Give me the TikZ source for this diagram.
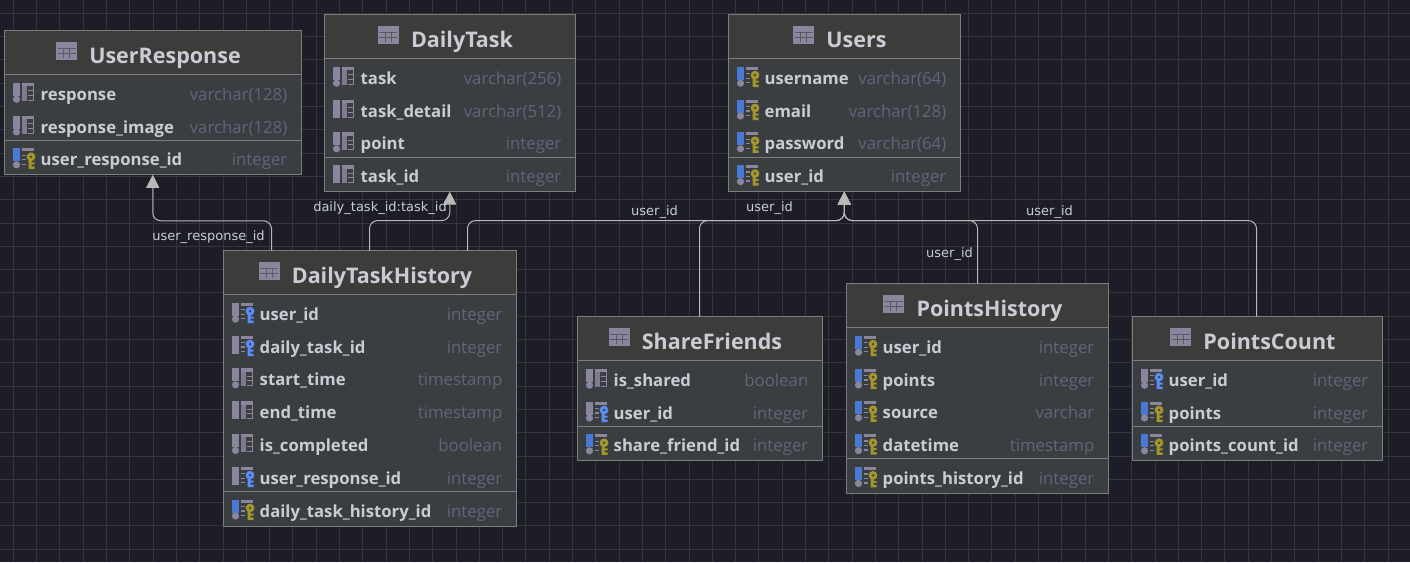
\documentclass[tikz,border=0pt]{standalone}
\usepackage{fontspec}
\setmainfont{Open Sans}
\newfontfamily\linkfont{DejaVu Sans}
\usetikzlibrary{positioning,arrows.meta}
\definecolor{erdback}{HTML}{1C1D27}
\definecolor{erdgrid}{HTML}{35363A}
\definecolor{erdbody}{HTML}{3B3E41}
\definecolor{erdhead}{HTML}{3D3C3A}
\definecolor{erdedge}{HTML}{7C7E7E}
\definecolor{erdtext}{HTML}{C9CCD4}
\definecolor{erdtype}{HTML}{62647A}
\definecolor{erdlink}{HTML}{B9B9B9}
\definecolor{erdicon}{HTML}{8A869E}
\definecolor{erdblue}{HTML}{4B78D4}
\definecolor{erdkey}{HTML}{5A8EF5}
\definecolor{erdgold}{HTML}{A4962A}
\tikzset{
  tablebox/.style={draw=erdedge, fill=erdbody, line width=1pt, outer sep=0pt, inner sep=0pt, anchor=north west},
  tablename/.style={font=\bfseries\fontsize{21.5}{24}\selectfont, text=erdtext, inner sep=0pt, anchor=base},
  colname/.style={font=\bfseries\fontsize{16.7}{20}\selectfont, text=erdtext, inner sep=0pt, anchor=base west},
  coltype/.style={font=\fontsize{16.8}{20}\selectfont, text=erdtype, inner sep=0pt, anchor=base east},
  linklabel/.style={font=\linkfont\fontsize{13}{14}\selectfont, text=erdtext, inner sep=0pt},
  link/.style={draw=erdlink, line width=1pt, rounded corners=8pt, -{Triangle[length=13pt,width=13pt,fill=erdlink]}},
}
% icon parts, origin at the middle of a row
\newcommand{\partbar}[1]{\fill[#1] (0,-11) rectangle (7,2);}
\newcommand{\partlong}[1]{\fill[#1] (0,-11) rectangle (7,7);}
\newcommand{\partdot}{\fill[erdicon] (3.5,5.5) circle (3.6);}
\newcommand{\parttable}{
  \fill[erdicon] (9,-11) rectangle (21,-7.5);
  \fill[erdicon!85!erdbody] (9,-7.5) rectangle (14,7);
  \draw[erdicon, line width=1pt] (15,-3) -- (21,-3) (15,1.5) -- (21,1.5) (15,6.5) -- (21,6.5) (20.5,-7.5) -- (20.5,7);
}
\newcommand{\partkey}[1]{
  \fill[erdicon] (9,-11) rectangle (21,-8);
  \draw[erdicon, line width=1.3pt] (9,-4) -- (13,-4) (9,0.5) -- (13,0.5) (9,5) -- (13,5);
  \fill[#1, even odd rule] (18,-2.5) circle (4.4) (18,-2.5) circle (1.5);
  \fill[#1] (15.7,-0.5) rectangle (18.5,9.5) (18.5,3) rectangle (21.5,5) (18.5,7) rectangle (21.5,9.5);
}
\newcommand{\iconA}{\partbar{erdicon}\partdot\parttable}
\newcommand{\iconB}{\partlong{erdicon}\parttable}
\newcommand{\iconC}{\partbar{erdicon}\partdot\partkey{erdkey}}
\newcommand{\iconD}{\partlong{erdicon}\partkey{erdkey}}
\newcommand{\iconE}{\partbar{erdblue}\partdot\partkey{erdgold}}
% name, left, right, top, number of rows, title, rows
\newcommand{\dbtable}[7]{
  \pgfmathsetmacro\bw{#3-#2+0.5}
  \pgfmathsetmacro\bh{62.7+(#5-1)*32.8+16}
  \pgfmathsetmacro\midx{(#2+#3)/2}
  \node[tablebox, minimum width=\bw pt, minimum height=\bh pt] (#1) at (#2-0.5,#4-0.5) {};
  \fill[erdhead] ([shift={(0.5pt,-0.5pt)}]#1.north west) rectangle ([shift={(-0.5pt,-43pt)}]#1.north east);
  \draw[erdedge, line width=1pt] ([yshift=-43.5pt]#1.north west) -- ([yshift=-43.5pt]#1.north east);
  \pgfmathsetmacro\sepy{#4+62.7+(#5-1)*32.8-19}
  \draw[erdedge, line width=1pt] (#1.west |- 0,\sepy) -- (#1.east |- 0,\sepy);
  \node[tablename] (#1-title) at (\midx+12,#4+32) {#6};
  \begin{scope}[shift={([shift={(-33pt,21pt)}]#1-title.base west)}]
    \fill[erdicon] (0,-0.5) rectangle (21,17.5);
    \draw[erdhead!60!erdicon, line width=1pt] (1.5,6) -- (19.5,6) (1.5,11) -- (19.5,11) (7.5,6) -- (7.5,16) (13.5,6) -- (13.5,16);
  \end{scope}
  \foreach \ic/\col/\typ [count=\k] in {#7} {
    \pgfmathsetmacro\ry{#4+62.7+(\k-1)*32.8}
    \begin{scope}[shift={(#2+8,\ry)}]
      \csname icon\ic\endcsname
    \end{scope}
    \node[colname] (#1-col\k) at (#2+35.5,\ry+6.5) {\col};
    \node[coltype] (#1-typ\k) at (#3-13.5,\ry+6.5) {\typ};
  }
}
\begin{document}
\begin{tikzpicture}[x=1pt, y=-1pt]
  \useasboundingbox (0,0) rectangle (1410,562);
  \fill[erdback] (0,0) rectangle (1410,562);
  \foreach \i in {0,...,60} { \draw[erdgrid] (13+\i*23.3,0) -- (13+\i*23.3,562); }
  \foreach \i in {0,...,23} { \draw[erdgrid] (0,13+\i*23.3) -- (1410,13+\i*23.3); }

  \dbtable{userresponse}{5}{301}{31}{3}{UserResponse}{A/response/varchar(128), A/response\_image/varchar(128), E/user\_response\_id/integer}
  \dbtable{dailytask}{325}{575}{15}{4}{DailyTask}{A/task/varchar(256), B/task\_detail/varchar(512), A/point/integer, B/task\_id/integer}
  \dbtable{users}{729}{960}{15}{4}{Users}{E/username/varchar(64), E/email/varchar(128), E/password/varchar(64), E/user\_id/integer}
  \dbtable{history}{224}{516}{251}{7}{DailyTaskHistory}{C/user\_id/integer, D/daily\_task\_id/integer, A/start\_time/timestamp, B/end\_time/timestamp, A/is\_completed/boolean, D/user\_response\_id/integer, E/daily\_task\_history\_id/integer}
  \dbtable{share}{578}{822}{317}{3}{ShareFriends}{A/is\_shared/boolean, C/user\_id/integer, E/share\_friend\_id/integer}
  \dbtable{points}{847}{1108}{284}{5}{PointsHistory}{E/user\_id/integer, E/points/integer, E/source/varchar, E/datetime/timestamp, E/points\_history\_id/integer}
  \dbtable{pcount}{1133}{1382}{317}{3}{PointsCount}{C/user\_id/integer, E/points/integer, E/points\_count\_id/integer}

  \draw[link] ([xshift=48pt]history.north west) |- ([yshift=-46pt]userresponse.south) -- (userresponse.south);
  \draw[link] ([xshift=146pt]history.north west) |- ([yshift=-29pt]dailytask.south) -- (dailytask.south);
  \draw[link] ([xshift=244pt]history.north west) |- ([yshift=-29pt]users.south) -- (users.south);
  \draw[link] ([xshift=122pt]share.north west) |- ([yshift=-29pt]users.south) -- (users.south);
  \draw[link] ([xshift=131pt]points.north west) |- ([yshift=-29pt]users.south) -- (users.south);
  \draw[link] ([xshift=124pt]pcount.north west) |- ([yshift=-29pt]users.south) -- (users.south);

  \node[linklabel] (lblresponse) at (208.5,237) {user\_response\_id};
  \node[linklabel] (lbltask) at (380,208) {daily\_task\_id:task\_id};
  \node[linklabel] (lblhistory) at (654.5,212) {user\_id};
  \node[linklabel] (lblshare) at (769.5,208) {user\_id};
  \node[linklabel] (lblpoints) at (949.5,254) {user\_id};
  \node[linklabel] (lblcount) at (1049.5,212) {user\_id};
\end{tikzpicture}
\end{document}
